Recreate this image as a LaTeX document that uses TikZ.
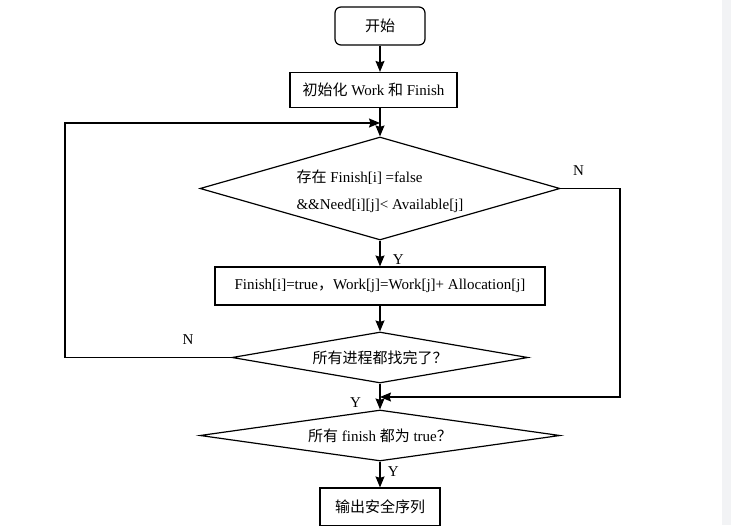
\documentclass[tikz,border=0pt]{standalone}
\usepackage{fontspec}
\setmainfont{Liberation Serif}
\newfontfamily\cjk{Noto Sans CJK SC}
\newcommand{\zh}[1]{{\cjk #1}}
\usetikzlibrary{arrows.meta,shapes.geometric}
\definecolor{sidebar}{HTML}{F2F3F5}

\begin{document}
\begin{tikzpicture}[x=1pt,y=-1pt,->,>={Stealth[length=11pt,width=9pt,inset=1.5pt]},
                    line width=1.2pt,auto,node distance=64pt,
                    font=\fontsize{15}{18}\selectfont]

  \tikzstyle{proc}=[rectangle,draw,inner sep=0pt,minimum height=35pt]
  \tikzstyle{term}=[proc,rounded corners=6pt,minimum width=90pt,minimum height=38pt]
  \tikzstyle{test}=[diamond,draw,inner sep=0pt,aspect=6]

  \useasboundingbox (0,0) rectangle (731,525);
  \fill[sidebar] (722,0) rectangle (731,525);

  \node[term] (start) at (380,26) {\zh{开始}};
  \node[proc,minimum width=167pt] (init) [below of=start,xshift=-6.5pt]
        {\zh{初始化} Work \zh{和} Finish};

  \node[test,aspect=3.5,minimum width=360pt,minimum height=103pt,align=left] (find)
        [below of=start,node distance=162.5pt]
        {\rule{0pt}{19pt}\zh{存在} Finish[i] =false\\[9pt]\&\&Need[i][j]< Available[j]};
  \node[proc,minimum width=330pt,minimum height=38pt] (update)
        [below of=find,node distance=97.5pt]
        {Finish[i]=true\zh{，}Work[j]=Work[j]+ Allocation[j]};
  \node[test,minimum width=296pt,minimum height=51pt] (allDone)
        [below of=update,node distance=71.5pt] {\zh{所有进程都找完了？}};
  \node[test,minimum width=360pt,minimum height=51pt] (allTrue)
        [below of=allDone,node distance=78pt] {\zh{所有} finish \zh{都为} true\zh{？}};
  \node[proc,minimum width=120pt,minimum height=38pt] (safe)
        [below of=allTrue,node distance=71.5pt] {\zh{输出安全序列}};

  \coordinate (backL) at (65,123);
  \coordinate (backR) at (620,397);
  \coordinate (join)  at (find.north |- backL);

  \path
  (start)              edge (start |- init.north)
  (init.south -| find) edge (find)
  (find)    edge node[pos=0.75,xshift=9pt] {Y} (update)
  (update)  edge (allDone)
  (allDone) edge node[pos=0.75,swap,xshift=-15pt] {Y} (allTrue)
  (allTrue) edge node[pos=0.4,xshift=4pt] {Y} (safe)
  ;

  \draw (allDone.west) -| node[pos=0.13,above=9pt] {N} (backL) -- (join);
  \draw (find.east) -| node[pos=0.15,above=9pt] {N} (backR) -- (allDone.south |- backR);
\end{tikzpicture}
\end{document}
